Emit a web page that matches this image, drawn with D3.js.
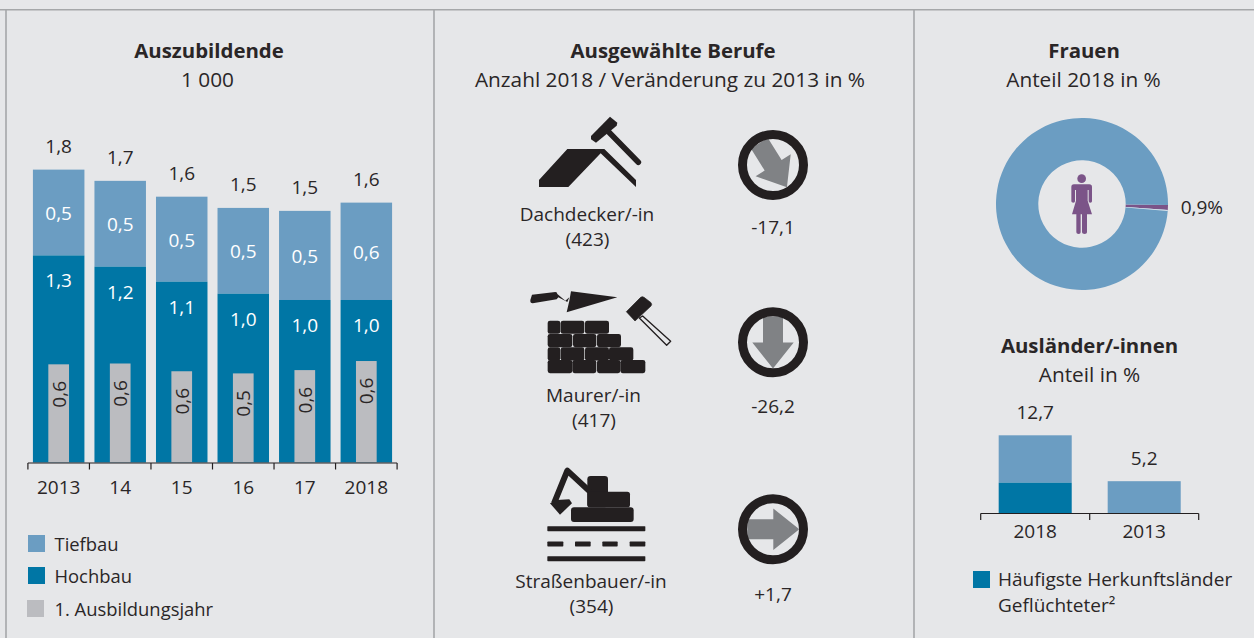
<!DOCTYPE html>
<html><head><meta charset="utf-8">
<script src="https://cdn.jsdelivr.net/npm/d3@7"></script>
<style>
html,body{margin:0;padding:0;background:#e6e7e9;overflow:hidden}
svg{display:block}
text{font-family:"Open Sans",Lato,sans-serif;font-size:19px;fill:#2a2627}
.b{font-weight:700;font-size:20.4px}
.s{font-size:20.8px}
.l{font-size:18.4px}
</style></head><body>
<svg id="c" width="1254" height="638"></svg>
<script>
const years = ["2013","14","15","16","17","2018"];
const hochbau = [1.255,1.187,1.096,1.023,0.985,0.985];
const tiefbau = [0.52,0.52,0.515,0.52,0.54,0.59];
const ausbildungsjahr = [0.595,0.60,0.553,0.54,0.56,0.615];
const legendLabels = ["Tiefbau","Hochbau","1. Ausbildungsjahr"];
const berufe = ["Dachdecker/-in","Maurer/-in","Straßenbauer/-in"];
const anzahl = [423,417,354];
const veraenderung = ["-17,1","-26,2","+1,7"];
const frauenAnteil = [0.9,99.1];
const auslJahre = ["2018","2013"];
const auslHerkunft = [4.95,0];
const auslUebrige = [7.75,5.2];

const C={light:"#6b9dc2",dark:"#0076a5",gray:"#bbbcc0",ink:"#231f20",rule:"#a5a7a9",purple:"#7b5488",arrow:"#808285",bg:"#e6e7e9"};
const svg=d3.select("#c");
const fmt=v=>d3.format(".1f")(v).replace(".",",");
const T=(g,s,x,y,a="middle",cls="")=>g.append("text").attr("x",x).attr("y",y).attr("text-anchor",a).attr("class",cls).text(s);

// frame
[[0,9.8,1254,9.8],[6,10,6,638],[434,10,434,638],[914,10,914,638]].forEach(l=>
  svg.append("line").attr("x1",l[0]).attr("y1",l[1]).attr("x2",l[2]).attr("y2",l[3]).attr("stroke",C.rule).attr("stroke-width",1.6));

// Titles
T(svg,"Auszubildende",209,58,"middle","b");
T(svg,"1 000",207.5,87,"middle","s");
T(svg,"Ausgewählte Berufe",673,58,"middle","b");
T(svg,"Anzahl 2018 / Veränderung zu 2013 in %",670,87,"middle","s");
T(svg,"Frauen",1084,58,"middle","b");
T(svg,"Anteil 2018 in %",1083.5,87,"middle","s");
T(svg,"Ausländer/-innen",1089.5,353,"middle","b");
T(svg,"Anteil in %",1089.5,382,"middle","s");

// Stacked bars
const x=d3.scaleBand().domain(years).range([28,397]).paddingInner(0.163).paddingOuter(0.08);
const y=d3.scaleLinear().domain([0,1.8]).range([462.5,165.5]);
const rows=years.map((k,i)=>({k,h:hochbau[i],t:tiefbau[i],a:ausbildungsjahr[i]}));
const g=svg.append("g");
g.selectAll(".t").data(rows).join("rect").attr("x",d=>x(d.k)).attr("width",x.bandwidth()).attr("y",d=>y(d.h+d.t)).attr("height",d=>y(d.h)-y(d.h+d.t)).attr("fill",C.light);
g.selectAll(".h").data(rows).join("rect").attr("x",d=>x(d.k)).attr("width",x.bandwidth()).attr("y",d=>y(d.h)).attr("height",d=>y(0)-y(d.h)).attr("fill",C.dark);
const grayW=20.7;
g.selectAll(".a").data(rows).join("rect").attr("x",d=>x(d.k)+x.bandwidth()/2-grayW/2).attr("width",grayW).attr("y",d=>y(d.a)).attr("height",d=>y(0)-y(d.a)).attr("fill",C.gray);
const cx=d=>x(d.k)+x.bandwidth()/2;
g.selectAll(".tot").data(rows).join("text").attr("x",cx).attr("y",d=>y(d.h+d.t)-16.7).attr("text-anchor","middle").text(d=>fmt(d.h+d.t));
g.selectAll(".tl").data(rows).join("text").attr("x",cx).attr("y",d=>(y(d.h+d.t)+y(d.h))/2+7.5).attr("text-anchor","middle").style("fill","#fff").text(d=>fmt(d.t));
g.selectAll(".hl").data(rows).join("text").attr("x",cx).attr("y",d=>y(d.h)+32).attr("text-anchor","middle").style("fill","#fff").text(d=>fmt(d.h));
g.selectAll(".al").data(rows).join("text").attr("text-anchor","middle").attr("transform",d=>`translate(${cx(d)+7},${y(d.a)+30}) rotate(-90)`).text(d=>fmt(d.a));
g.selectAll(".xl").data(rows).join("text").attr("x",cx).attr("y",494).attr("text-anchor","middle").text(d=>d.k);
function axisLine(par,scale,keys,yy){
  const st=scale.step(), x0=scale(keys[0])-scale.paddingInner()*st/2;
  const edges=d3.range(keys.length+1).map(i=>x0+i*st);
  par.append("line").attr("x1",edges[0]).attr("x2",edges[keys.length]).attr("y1",yy).attr("y2",yy).attr("stroke",C.ink).attr("stroke-width",1.2);
  par.selectAll(".tk").data(edges).join("line").attr("x1",d=>d).attr("x2",d=>d).attr("y1",yy).attr("y2",yy+6.5).attr("stroke",C.ink).attr("stroke-width",1.2);
}
axisLine(g.append("g"),x,years,463);

// Legend left
const legC=[C.light,C.dark,C.gray],legX=[28,28,27],legY=[535,567,600],legB=[551,583,616];
legendLabels.forEach((s,i)=>{
  svg.append("rect").attr("x",legX[i]).attr("y",legY[i]).attr("width",17).attr("height",17).attr("fill",legC[i]);
  T(svg,s,54.5,legB[i],"start","l");
});

// Middle: professions
const lblX=[587,593.5,591],lblY=[220.7,401.7,587.7],valY=[234.3,413.3,600.7],circY=[165,342.3,529.3],rot=[58,90,0];
berufe.forEach((s,i)=>{
  T(svg,s,lblX[i],lblY[i]);
  T(svg,"("+anzahl[i]+")",lblX[i]+0.5,lblY[i]+25.2);
  T(svg,veraenderung[i],773,valY[i]);
  const a=svg.append("g").attr("transform",`translate(773,${circY[i]})`);
  a.append("path").attr("d","M-25.7,-10 L0.3,-10 L0.3,-20.7 L26.3,0 L0.3,20.7 L0.3,10 L-25.7,10 Z").attr("fill",C.arrow).attr("transform",`rotate(${rot[i]})`);
  a.append("circle").attr("r",30.5).attr("fill","none").attr("stroke",C.ink).attr("stroke-width",9);
});

// Icons (drawn in 3x crop coordinates)
const ic=(ox,oy)=>svg.append("g").attr("transform",`translate(${ox},${oy}) scale(${1/3})`).attr("fill",C.ink);
const roof=ic(510,100);
roof.append("path").attr("d","M87,240 L172,147 L283,147 L378,240 L378,261 L272,160 L175,261 L87,261 Z");
roof.append("path").attr("d","M243,108 L300,50 L322,68 L320,77 L258,128 L243,118 Z");
roof.append("line").attr("x1",297).attr("y1",97).attr("x2",385).attr("y2",187).attr("stroke",C.ink).attr("stroke-width",17).attr("stroke-linecap","round");

const wall=ic(510,280);
const bricks=[[122,[[114,150],[153,222],[226,296]]],[162,[[114,186],[190,258],[262,332]]],[202,[[114,150],[153,222],[226,296],[298,369]]],[240,[[114,186],[188,258],[262,330],[332,405]]]];
bricks.forEach(r=>r[1].forEach(b=>wall.append("rect").attr("x",b[0]-1).attr("y",r[0]).attr("width",b[1]-b[0]+2).attr("height",39.5).attr("rx",7)));
wall.append("path").attr("d","M66,44 L136,36 Q142,36 142,42 L166,62 L178,52 L172,66 L145,52 L140,58 L68,70 Q60,70 61,60 Z");
wall.append("path").attr("d","M183,34 L322,52 L170,97 L178,62 Z");
wall.append("path").attr("d","M398,108 L482,184 L470,196 L388,114 Z").attr("fill",C.bg).attr("stroke",C.ink).attr("stroke-width",4).attr("stroke-linejoin","round");
wall.append("path").attr("d","M349,95 L392,52 Q397,48 402,52 L423,68 Q427,74 423,78 L375,123 Z").attr("stroke",C.ink).attr("stroke-width",2).attr("stroke-linejoin","round");

const dig=ic(510,450);
dig.append("rect").attr("x",183).attr("y",172).attr("width",188).attr("height",44).attr("rx",9);
dig.append("rect").attr("x",232).attr("y",78).attr("width",62).attr("height",94).attr("rx",10);
dig.append("rect").attr("x",232).attr("y",125).attr("width",128).attr("height",47).attr("rx",8);
dig.append("polyline").attr("points","240,125 172,62 132,160").attr("fill","none").attr("stroke",C.ink).attr("stroke-width",18).attr("stroke-linejoin","round");
dig.append("path").attr("d","M120,160 L140,150 L178,148 L186,160 L150,194 Z");
[236,326].forEach(yy=>dig.append("rect").attr("x",112).attr("y",yy-7.5).attr("width",294).attr("height",15).attr("rx",2));
[[112,160],[195,242],[277,323],[359,406]].forEach(s=>dig.append("rect").attr("x",s[0]).attr("y",274.5).attr("width",s[1]-s[0]).attr("height",15).attr("rx",2));

// Frauen donut
const pie=d3.pie().sort(null).startAngle(Math.PI/2+0.012).endAngle(Math.PI*2.5+0.012)(frauenAnteil);
const arc=d3.arc().innerRadius(43.7).outerRadius(86);
const dg=svg.append("g").attr("transform","translate(1082,204)");
dg.selectAll("path").data(pie).join("path").attr("d",arc).attr("fill",(d,i)=>i===0?C.purple:C.light);
dg.append("path").attr("d",arc({startAngle:pie[0].endAngle,endAngle:pie[0].endAngle+0.012})).attr("fill","#dfe6ec");
T(svg,"0,9%",1180.7,214,"start");
const w=svg.append("g").attr("transform",`translate(1040,160) scale(${1/3})`).attr("fill",C.purple);
w.append("circle").attr("cx",125).attr("cy",56).attr("r",13);
w.append("path").attr("d","M102,73 L148,73 Q156,73 156,81 L156,124 Q156,128 151,128 Q146,128 146,124 L146,90 L143,90 L143,122 L156,163 L141,163 L141,217 Q141,222 134,222 Q126,222 126,217 L126,163 L122,163 L122,217 Q122,222 116,222 Q109,222 109,217 L109,163 L96,163 L108,122 L108,90 L105,90 L105,124 Q105,128 100,128 Q94,128 94,124 L94,81 Q94,73 102,73 Z");

// Auslaender bars
const x2=d3.scaleBand().domain(auslJahre).range([980.7,1198.7]).paddingInner(0.33).paddingOuter(0.165);
const y2=d3.scaleLinear().domain([0,12.7]).range([513,435.3]);
const r2=auslJahre.map((k,i)=>({k,h:auslHerkunft[i],u:auslUebrige[i]}));
const g2=svg.append("g");
g2.selectAll(".u").data(r2).join("rect").attr("x",d=>x2(d.k)).attr("width",x2.bandwidth()).attr("y",d=>y2(d.h+d.u)).attr("height",d=>y2(d.h)-y2(d.h+d.u)).attr("fill",C.light);
g2.selectAll(".v").data(r2).join("rect").attr("x",d=>x2(d.k)).attr("width",x2.bandwidth()).attr("y",d=>y2(d.h)).attr("height",d=>y2(0)-y2(d.h)).attr("fill",C.dark);
const cx2=d=>x2(d.k)+x2.bandwidth()/2;
g2.selectAll(".tt").data(r2).join("text").attr("x",cx2).attr("y",d=>y2(d.h+d.u)-16).attr("text-anchor","middle").text(d=>fmt(d.h+d.u));
g2.selectAll(".yl").data(r2).join("text").attr("x",cx2).attr("y",538.3).attr("text-anchor","middle").text(d=>d.k);
axisLine(g2.append("g"),x2,auslJahre,513.5);
svg.append("rect").attr("x",973).attr("y",571).attr("width",17).attr("height",17).attr("fill",C.dark);
T(svg,"Häufigste Herkunftsländer",998,586,"start");
T(svg,"Geflüchteter²",998,612,"start");
</script>
</body></html>
